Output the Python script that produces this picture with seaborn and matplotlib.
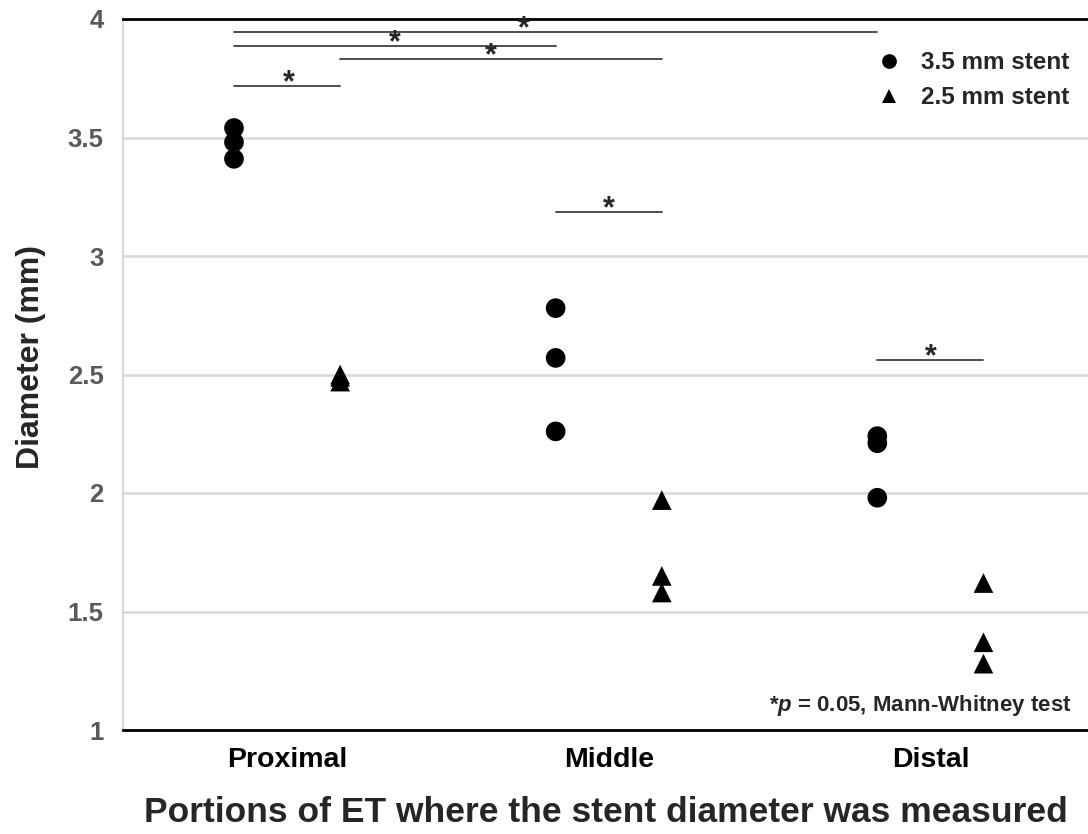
import pandas as pd
import matplotlib.pyplot as plt
import seaborn as sns

# Stent diameter (mm)
portions = ['Proximal', 'Middle', 'Distal']
stents = ['3.5 mm stent', '2.5 mm stent']

d35_proximal = [3.54, 3.48, 3.41]
d35_middle = [2.78, 2.57, 2.26]
d35_distal = [2.24, 2.21, 1.98]

d25_proximal = [2.50, 2.49, 2.47]
d25_middle = [1.97, 1.65, 1.58]
d25_distal = [1.62, 1.37, 1.28]

# significance bars: (portion, stent) -> (portion, stent), bar height, where the * sits
sig_from = [('Proximal', '3.5 mm stent'), ('Proximal', '3.5 mm stent'), ('Proximal', '2.5 mm stent'),
            ('Proximal', '3.5 mm stent'), ('Middle', '3.5 mm stent'), ('Distal', '3.5 mm stent')]
sig_to = [('Distal', '3.5 mm stent'), ('Middle', '3.5 mm stent'), ('Middle', '2.5 mm stent'),
          ('Proximal', '2.5 mm stent'), ('Middle', '2.5 mm stent'), ('Distal', '2.5 mm stent')]
sig_height = [3.945, 3.887, 3.832, 3.717, 3.186, 2.562]
sig_star_frac = [0.45, 0.5, 0.47, 0.52, 0.5, 0.5]

# Build long table
rows = []
for stent, vals in zip(stents, [[d35_proximal, d35_middle, d35_distal],
                                [d25_proximal, d25_middle, d25_distal]]):
    for portion, v in zip(portions, vals):
        for d in v:
            rows.append({'Portion': portion, 'Stent': stent, 'Diameter': d})
df = pd.DataFrame(rows)

# position on the category axis, dodged by stent
offset = {'3.5 mm stent': -0.165, '2.5 mm stent': 0.165}
df['pos'] = df['Portion'].map({p: i for i, p in enumerate(portions)}) + df['Stent'].map(offset)

sns.set_style('white')
plt.rcParams['font.family'] = ['Liberation Sans', 'DejaVu Sans']
plt.rcParams['font.weight'] = 'bold'
plt.rcParams['mathtext.fontset'] = 'custom'
plt.rcParams['mathtext.it'] = 'Liberation Sans:italic:bold'
plt.rcParams['mathtext.rm'] = 'Liberation Sans:bold'

fig = plt.figure(figsize=(10.88, 8.34), dpi=100)
ax = fig.add_axes([123 / 1088, 104 / 834, 965 / 1088, 711 / 834])

sns.scatterplot(data=df, x='pos', y='Diameter', hue='Stent', style='Stent',
                hue_order=stents, style_order=stents,
                palette=['black', 'black'], markers={'3.5 mm stent': 'o', '2.5 mm stent': '^'},
                s=200, edgecolor='none', ax=ax, zorder=3)

ax.set_xlim(-0.51, 2.49)
ax.set_ylim(1, 4)
ax.set_xticks(range(len(portions)))
ax.set_xticklabels(portions)
ax.set_yticks([1, 1.5, 2, 2.5, 3, 3.5, 4])
ax.set_yticklabels(['1', '1.5', '2', '2.5', '3', '3.5', '4'])
ax.tick_params(axis='y', length=0, pad=14, labelsize=18.5, labelcolor='#595959')
ax.tick_params(axis='x', length=0, pad=12, labelsize=20.5, labelcolor='black')

ax.yaxis.grid(True, color='#d9d9d9', linewidth=1.8)
ax.set_axisbelow(True)
for s in ['top', 'bottom']:
    ax.spines[s].set_color('black')
    ax.spines[s].set_linewidth(2)
ax.spines['right'].set_visible(False)
ax.spines['left'].set_color('#d9d9d9')
ax.spines['left'].set_linewidth(1.5)

ax.set_xlabel('Portions of ET where the stent diameter was measured', fontsize=25.5, fontweight='bold')
ax.set_ylabel('Diameter (mm)', fontsize=23, fontweight='bold')
ax.xaxis.set_label_coords(0.5, -0.093)
ax.yaxis.set_label_coords(-0.08, 0.525)

# significance bars
pos_of = {(p, st): i + offset[st] for i, p in enumerate(portions) for st in stents}
for a, b, h, f in zip(sig_from, sig_to, sig_height, sig_star_frac):
    x0, x1 = pos_of[a], pos_of[b]
    ax.plot([x0, x1], [h, h], color='#404040', linewidth=1.3, zorder=2)
    ax.annotate('*', xy=(x0 + f * (x1 - x0), h), xytext=(0, -9), textcoords='offset points',
                ha='center', va='bottom', fontsize=22, fontweight='bold')

handles, labels = ax.get_legend_handles_labels()
keep = [(h, l) for h, l in zip(handles, labels) if l in stents]
ax.legend([h for h, l in keep], [l for h, l in keep], loc='upper right',
          bbox_to_anchor=(0.993, 0.972), frameon=False, fontsize=17.5,
          markerscale=0.75, handletextpad=0.3, labelspacing=0.5, borderpad=0)

ax.text(0.983, 0.035, r'*$p$ = 0.05, Mann-Whitney test', transform=ax.transAxes,
        ha='right', va='center', fontsize=16, fontweight='bold')

fig.savefig('out.png', dpi=100)
